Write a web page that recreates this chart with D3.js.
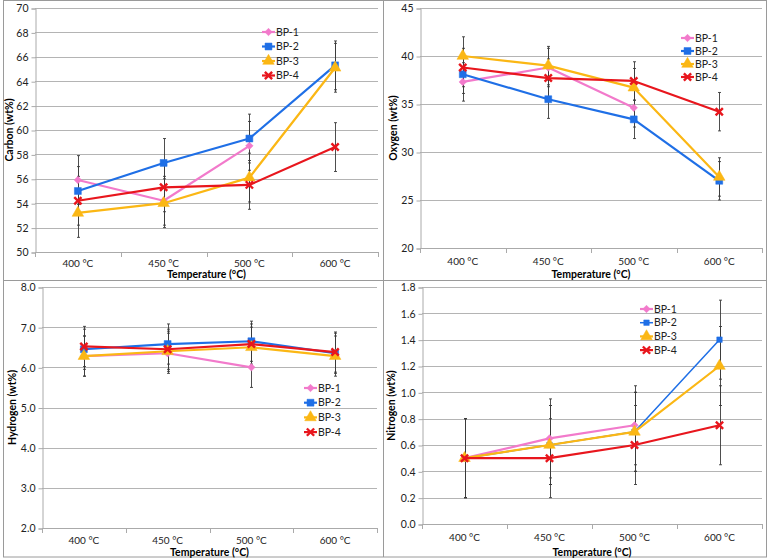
<!DOCTYPE html>
<html lang="en">
<head>
<meta charset="UTF-8">
<title>Char composition</title>
<script src="https://cdn.jsdelivr.net/npm/d3@7"></script>
<style>
    body { margin: 0; background: #fff; }
    svg { display: block; font-family: Lato, "Open Sans", sans-serif; }
</style>
</head>
<body>
<svg id="chart" width="769" height="560"></svg>
<script>
var categories = ["400 °C", "450 °C", "500 °C", "600 °C"];
var seriesNames = ["BP-1", "BP-2", "BP-3", "BP-4"];

var carbon = [[55.9, 54.2, 58.7, null], [55.0, 57.3, 59.3, 65.3], [53.2, 54.0, 56.1, 65.1], [54.2, 55.3, 55.5, 58.6]];
var carbonErr = [2, 2, 2, 2];
var oxygen = [[37.3, 38.8, 34.6, null], [38.1, 35.5, 33.4, 27.0], [40.0, 39.0, 36.7, 27.4], [38.8, 37.7, 37.4, 34.2]];
var oxygenErr = [2, 2, 2, 2];
var hydrogen = [[6.28, 6.35, 6.0, null], [6.45, 6.58, 6.65, 6.35], [6.28, 6.4, 6.5, 6.28], [6.52, 6.45, 6.58, 6.38]];
var hydrogenErr = [0.5, 0.5, 0.5, 0.5];
var nitrogen = [[0.5, 0.65, 0.75, null], [0.5, 0.6, 0.7, 1.4], [0.5, 0.6, 0.7, 1.2], [0.5, 0.5, 0.6, 0.75]];
var nitrogenErr = [0.3, 0.3, 0.3, 0.3];

var carbonTicks = [50, 52, 54, 56, 58, 60, 62, 64, 66, 68, 70];
var oxygenTicks = [20, 25, 30, 35, 40, 45];
var hydrogenTicks = [2, 3, 4, 5, 6, 7, 8];
var nitrogenTicks = [0, 0.2, 0.4, 0.6, 0.8, 1.0, 1.2, 1.4, 1.6, 1.8];

var colors = ["#f27acb", "#1f6fe6", "#fbb714", "#e8161d"];

var svg = d3.select("#chart");

// panel frames
var frame = svg.append("g").attr("stroke", "#9a9a9a").attr("fill", "none");
frame.append("rect").attr("x", 3.5).attr("y", 0.5).attr("width", 763).attr("height", 556.5);
frame.append("line").attr("x1", 383.5).attr("x2", 383.5).attr("y1", 0).attr("y2", 557);
frame.append("line").attr("x1", 3).attr("x2", 767).attr("y1", 280.5).attr("y2", 280.5);

var panels = [
    {data: carbon, err: carbonErr, ticks: carbonTicks, fmt: d3.format("d"), label: "Carbon (wt%)",
     left: 35, right: 378, top: 8, bottom: 252, tickY: 267, titleY: 277.5, labelX: 10, legX: 262, legY: 32, legGap: 14.5},
    {data: oxygen, err: oxygenErr, ticks: oxygenTicks, fmt: d3.format("d"), label: "Oxygen (wt%)",
     left: 420, right: 762, top: 8, bottom: 248, tickY: 265, titleY: 277.5, labelX: 394, legX: 681, legY: 38, legGap: 13},
    {data: hydrogen, err: hydrogenErr, ticks: hydrogenTicks, fmt: d3.format(".1f"), label: "Hydrogen (wt%)",
     left: 42, right: 377, top: 287, bottom: 528, tickY: 544, titleY: 555.5, labelX: 13, legX: 304, legY: 388, legGap: 14.7},
    {data: nitrogen, err: nitrogenErr, ticks: nitrogenTicks, fmt: d3.format(".1f"), label: "Nitrogen (wt%)",
     left: 422, right: 762, top: 287, bottom: 524, tickY: 541, titleY: 555.5, labelX: 392, legX: 640, legY: 309, legGap: 13.7,
     thinSeries: 1}
];

panels.forEach(function (p) {
    var g = svg.append("g");
    var x = d3.scaleBand().domain(categories).range([p.left, p.right]);
    var y = d3.scaleLinear().domain(d3.extent(p.ticks)).range([p.bottom, p.top]);
    var cx = function (c) { return x(c) + x.bandwidth() / 2; };

    // gridlines
    g.append("g").selectAll("line").data(p.ticks.slice(1)).join("line")
        .attr("x1", p.left).attr("x2", p.right)
        .attr("y1", function (d) { return Math.round(y(d)) + 0.5; })
        .attr("y2", function (d) { return Math.round(y(d)) + 0.5; })
        .attr("stroke", "#b4b4b4").attr("stroke-width", 1);

    // y axis
    var yAxis = g.append("g").attr("transform", "translate(" + (p.left + 0.5) + ",0.5)")
        .call(d3.axisLeft(y).tickValues(p.ticks).tickFormat(p.fmt).tickSize(4).tickPadding(3));
    yAxis.selectAll("path, line").attr("stroke", "#aaa");
    yAxis.selectAll("text").attr("font-size", 10.5).attr("fill", "#222").attr("font-family", "Lato, sans-serif");

    // x axis with ticks at category boundaries
    g.append("line").attr("x1", p.left).attr("x2", p.right)
        .attr("y1", p.bottom + 0.5).attr("y2", p.bottom + 0.5).attr("stroke", "#aaa");
    var bounds = categories.map(function (c) { return x(c); }).concat([p.right]);
    g.append("g").selectAll("line").data(bounds).join("line")
        .attr("x1", function (d) { return Math.round(d) + 0.5; })
        .attr("x2", function (d) { return Math.round(d) + 0.5; })
        .attr("y1", p.bottom).attr("y2", p.bottom + 5).attr("stroke", "#aaa");
    g.append("g").selectAll("text").data(categories).join("text")
        .attr("x", cx).attr("y", p.tickY).attr("text-anchor", "middle")
        .attr("font-size", 10).attr("fill", "#222").text(function (d) { return d; });

    // titles
    g.append("text").attr("x", (p.left + p.right) / 2).attr("y", p.titleY)
        .attr("text-anchor", "middle").attr("font-size", 10.5).attr("font-weight", "bold")
        .text("Temperature (°C)");
    g.append("text")
        .attr("transform", "translate(" + (p.labelX + 3) + "," + ((p.top + p.bottom) / 2) + ") rotate(-90)")
        .attr("text-anchor", "middle").attr("font-size", 10.5).attr("font-weight", "bold")
        .text(p.label);

    // error bars
    p.data.forEach(function (vals, si) {
        var pts = vals.map(function (v, i) { return {c: categories[i], v: v}; }).filter(function (d) { return d.v != null; });
        var eb = g.append("g").attr("stroke", "#3a3a3a").attr("stroke-width", 0.9);
        pts.forEach(function (d) {
            var xx = Math.round(cx(d.c)) + 0.5;
            var y0 = y(d.v - p.err[si]), y1 = y(d.v + p.err[si]);
            eb.append("line").attr("x1", xx).attr("x2", xx).attr("y1", y0).attr("y2", y1);
            eb.append("line").attr("x1", xx - 1.5).attr("x2", xx + 1.5).attr("y1", y0).attr("y2", y0);
            eb.append("line").attr("x1", xx - 1.5).attr("x2", xx + 1.5).attr("y1", y1).attr("y2", y1);
        });
    });

    // series lines and markers
    var line = d3.line().defined(function (d) { return d.v != null; })
        .x(function (d) { return cx(d.c); }).y(function (d) { return y(d.v); });
    p.data.forEach(function (vals, si) {
        var thin = p.thinSeries === si;
        var pts = vals.map(function (v, i) { return {c: categories[i], v: v}; });
        g.append("path").datum(pts).attr("d", line)
            .attr("fill", "none").attr("stroke", colors[si]).attr("stroke-width", thin ? 1.5 : 2.2)
            .attr("stroke-linejoin", "round");
        drawMarkers(g, pts.filter(function (d) { return d.v != null; }), si, thin,
            function (d) { return cx(d.c); }, function (d) { return y(d.v); });
    });

    // legend
    var leg = g.append("g");
    seriesNames.forEach(function (name, si) {
        var thin = p.thinSeries === si;
        var ly = p.legY + si * p.legGap;
        leg.append("line").attr("x1", p.legX).attr("x2", p.legX + 13)
            .attr("y1", ly).attr("y2", ly).attr("stroke", colors[si]).attr("stroke-width", thin ? 1.5 : 2.2);
        drawMarkers(leg, [{x: p.legX + 6.5, y: ly}], si, thin, function (d) { return d.x; }, function (d) { return d.y; });
        leg.append("text").attr("x", p.legX + 14).attr("y", ly + 3.7)
            .attr("font-size", 10.5).attr("fill", "#222").text(name);
    });
});

function drawMarkers(g, pts, si, thin, fx, fy) {
    var types = [d3.symbolSquare, d3.symbolSquare, d3.symbolTriangle, d3.symbolTimes];
    var sizes = [28, thin ? 30 : 48, 58, 36];
    var sym = d3.symbol().type(types[si]).size(sizes[si]);
    g.append("g").selectAll("path").data(pts).join("path")
        .attr("transform", function (d) {
            return "translate(" + fx(d) + "," + fy(d) + ")" + (si === 0 ? " rotate(45)" : "");
        })
        .attr("d", sym)
        .attr("fill", si === 3 ? "none" : colors[si])
        .attr("stroke", colors[si])
        .attr("stroke-width", si === 3 ? 2.4 : 0.5);
}
</script>
</body>
</html>
